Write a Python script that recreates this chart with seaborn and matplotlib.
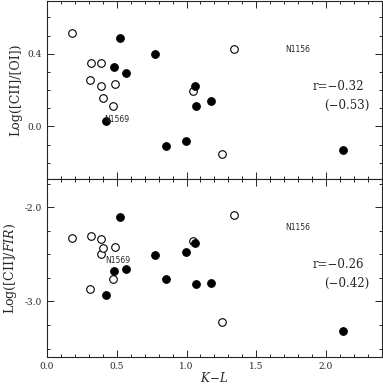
import matplotlib
matplotlib.use("Agg")
import matplotlib.pyplot as plt
import seaborn as sns
from matplotlib.ticker import MultipleLocator

# K-L colours, shared by both panels
open_kl = [0.179, 0.314, 0.39, 0.307, 0.388, 0.49, 0.402, 0.471, 1.043, 1.343, 1.252]
filled_kl = [0.526, 0.771, 0.481, 0.569, 0.421, 0.855, 0.998, 1.06, 1.069, 1.176, 2.124]

# top panel: Log([CII]/[OI])
open_cii_oi = [0.515, 0.351, 0.347, 0.255, 0.225, 0.236, 0.155, 0.111, 0.195, 0.425, -0.152]
filled_cii_oi = [0.486, 0.398, 0.329, 0.296, 0.031, -0.106, -0.082, 0.221, 0.110, 0.142, -0.13]

# bottom panel: Log([CII]/FIR)
open_cii_fir = [-2.321, -2.304, -2.332, -2.866, -2.50, -2.417, -2.431, -2.763, -2.36, -2.085, -3.223]
filled_cii_fir = [-2.102, -2.509, -2.679, -2.657, -2.93, -2.76, -2.477, -2.375, -2.81, -2.80, -3.315]

r_labels = [("r=\u22120.32", "(\u22120.53)"), ("r=\u22120.26", "(\u22120.42)")]

sns.set_style("ticks")
plt.rcParams["font.family"] = ["DejaVu Serif"]
plt.rcParams["mathtext.fontset"] = "dejavuserif"

fig = plt.figure(figsize=(3.83, 3.85), dpi=100)
ax1 = fig.add_axes([0.1227, 0.535, 0.8743, 0.462])
ax2 = fig.add_axes([0.1227, 0.0727, 0.8743, 0.4623], sharex=ax1)

panels = [
    (ax1, open_cii_oi, filled_cii_oi, (-0.29, 0.69), 0.4, 0.1),
    (ax2, open_cii_fir, filled_cii_fir, (-3.59, -1.70), 1.0, 0.25),
]

for i, (ax, yo, yf, ylim, major, minor) in enumerate(panels):
    sns.scatterplot(x=open_kl, y=yo, ax=ax, s=30, marker="o",
                    facecolor="white", edgecolor="black", linewidth=0.8)
    sns.scatterplot(x=filled_kl, y=yf, ax=ax, s=30, marker="o",
                    color="black", edgecolor="black", linewidth=0.8)
    ax.set_xlim(0, 2.4)
    ax.set_ylim(*ylim)
    ax.xaxis.set_major_locator(MultipleLocator(0.5))
    ax.xaxis.set_minor_locator(MultipleLocator(0.1))
    ax.yaxis.set_major_locator(MultipleLocator(major))
    ax.yaxis.set_minor_locator(MultipleLocator(minor))
    ax.tick_params(which="both", direction="in", top=True, right=True,
                   labelsize=6.5, width=0.7)
    ax.tick_params(which="major", length=5)
    ax.tick_params(which="minor", length=2.5)
    for sp in ax.spines.values():
        sp.set_linewidth(0.8)
    ax.yaxis.set_major_formatter(matplotlib.ticker.FormatStrFormatter("%.1f"))

    # r-value annotation
    ry = ylim[0] + (ylim[1] - ylim[0]) * 0.52
    ax.text(2.275, ry, r_labels[i][0], fontsize=8.5, ha="right", va="center")
    ax.text(2.31, ry - (ylim[1] - ylim[0]) * 0.105, r_labels[i][1],
            fontsize=8.5, ha="right", va="center")

# galaxy labels
ax1.text(0.41, 0.04, "N1569", fontsize=5.5, family="DejaVu Sans", va="center")
ax1.text(1.71, 0.424, "N1156", fontsize=5.5, family="DejaVu Sans", va="center")
ax2.text(0.42, -2.56, "N1569", fontsize=5.5, family="DejaVu Sans", va="center")
ax2.text(1.71, -2.215, "N1156", fontsize=5.5, family="DejaVu Sans", va="center")

plt.setp(ax1.get_xticklabels(), visible=False)
ax1.set_ylabel("Log([CII]/[OI])", fontsize=9, labelpad=4)
ax2.set_ylabel("Log([CII]/$\\mathit{FIR}$)", fontsize=9, labelpad=4)
ax2.set_xlabel("$K\\!-\\!L$", fontsize=8.5, labelpad=0)

fig.savefig("out.png", dpi=100)
